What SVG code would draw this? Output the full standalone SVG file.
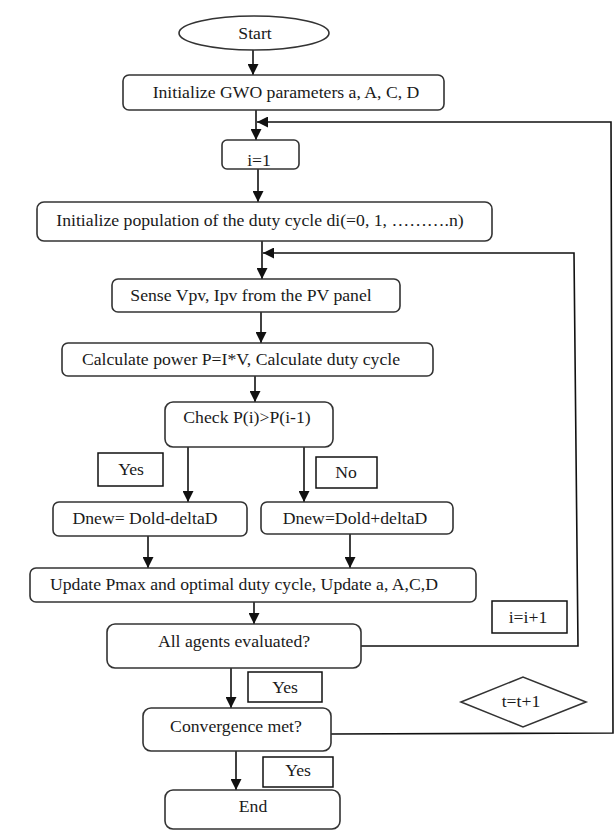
<svg xmlns="http://www.w3.org/2000/svg" width="616" height="832" viewBox="0 0 616 832">
<defs>
<style>
.box{fill:#fff;stroke:#333;stroke-width:1.6}
.lbl{fill:#fff;stroke:#111;stroke-width:1.5}
.t{font-family:"Liberation Serif","Times New Roman",serif;font-size:17.7px;fill:#1a1a1a;text-anchor:middle}
.c{fill:none;stroke:#111;stroke-width:1.6}
</style>
<marker id="ah" markerUnits="userSpaceOnUse" markerWidth="11" markerHeight="11" refX="10" refY="5" orient="auto" viewBox="0 0 10 10">
<path d="M0,0 L10,5 L0,10 z" fill="#111"/>
</marker>
</defs>
<rect width="616" height="832" fill="#fff"/>
<g id="connectors">
<line class="c" x1="253" y1="50" x2="253" y2="75" marker-end="url(#ah)"/>
<line class="c" x1="256" y1="110" x2="256" y2="140" marker-end="url(#ah)"/>
<polyline class="c" points="331,734 613,733 611,122 257,122" marker-end="url(#ah)"/>
<line class="c" x1="258" y1="169" x2="258" y2="202" marker-end="url(#ah)"/>
<line class="c" x1="262" y1="241" x2="262" y2="279" marker-end="url(#ah)"/>
<polyline class="c" points="361,646 578,646 574,253 263,253" marker-end="url(#ah)"/>
<line class="c" x1="261" y1="312" x2="261" y2="343" marker-end="url(#ah)"/>
<line class="c" x1="255" y1="376" x2="255" y2="402" marker-end="url(#ah)"/>
<line class="c" x1="188" y1="447" x2="188" y2="502" marker-end="url(#ah)"/>
<line class="c" x1="304" y1="447" x2="304" y2="502" marker-end="url(#ah)"/>
<line class="c" x1="148" y1="536" x2="148" y2="568" marker-end="url(#ah)"/>
<line class="c" x1="350" y1="534" x2="350" y2="568" marker-end="url(#ah)"/>
<line class="c" x1="254" y1="602" x2="254" y2="624" marker-end="url(#ah)"/>
<line class="c" x1="231" y1="668" x2="231" y2="708" marker-end="url(#ah)"/>
<line class="c" x1="236" y1="751" x2="236" y2="790" marker-end="url(#ah)"/>
</g>
<g id="start"><ellipse class="box" cx="254" cy="33" rx="75" ry="17"/><text class="t" x="255" y="39">Start</text></g>
<g id="init-gwo"><rect class="box" x="123" y="75" width="321" height="35" rx="6"/><text class="t" x="286" y="98">Initialize GWO parameters a, A, C, D</text></g>
<g id="i1"><rect class="box" x="222" y="140" width="77" height="29" rx="5"/><text class="t" x="259" y="166">i=1</text></g>
<g id="init-pop"><rect class="box" x="37" y="202" width="455" height="39" rx="7"/><text class="t" x="260" y="226">Initialize population of the duty cycle di(=0, 1, ……….n)</text></g>
<g id="sense"><rect class="box" x="112" y="279" width="288" height="33" rx="6"/><text class="t" x="251" y="301">Sense Vpv, Ipv from the PV panel</text></g>
<g id="calc"><rect class="box" x="62" y="343" width="371" height="33" rx="6"/><text class="t" x="241" y="365">Calculate power P=I*V, Calculate duty cycle</text></g>
<g id="check"><rect class="box" x="165" y="402" width="168" height="45" rx="8"/><text class="t" x="247" y="423">Check P(i)&gt;P(i-1)</text></g>
<g id="yes1"><rect class="lbl" x="98" y="453" width="65" height="33"/><text class="t" x="131" y="475">Yes</text></g>
<g id="no"><rect class="lbl" x="316" y="457" width="61" height="31"/><text class="t" x="346" y="478">No</text></g>
<g id="dnew-minus"><rect class="box" x="53" y="502" width="194" height="34" rx="6"/><text class="t" x="145" y="524">Dnew= Dold-deltaD</text></g>
<g id="dnew-plus"><rect class="box" x="261" y="502" width="192" height="32" rx="6"/><text class="t" x="355" y="524">Dnew=Dold+deltaD</text></g>
<g id="update"><rect class="box" x="30" y="568" width="446" height="34" rx="6"/><text class="t" x="244" y="590">Update Pmax and optimal duty cycle, Update a, A,C,D</text></g>
<g id="inc-i"><rect class="lbl" x="492" y="601" width="75" height="32"/><text class="t" x="528" y="623">i=i+1</text></g>
<g id="all-agents"><rect class="box" x="107" y="624" width="254" height="44" rx="8"/><text class="t" x="234" y="647">All agents evaluated?</text></g>
<g id="yes2"><rect class="lbl" x="248" y="672" width="74" height="30"/><text class="t" x="285" y="693">Yes</text></g>
<g id="inc-t"><polygon class="box" points="461,702 523,677 586,702 523,727"/><text class="t" x="521" y="707">t=t+1</text></g>
<g id="convergence"><rect class="box" x="143" y="708" width="188" height="43" rx="8"/><text class="t" x="236" y="732">Convergence met?</text></g>
<g id="yes3"><rect class="lbl" x="263" y="757" width="70" height="30"/><text class="t" x="298" y="776">Yes</text></g>
<g id="end"><rect class="box" x="165" y="790" width="175" height="39" rx="8"/><text class="t" x="253" y="812">End</text></g>
</svg>
